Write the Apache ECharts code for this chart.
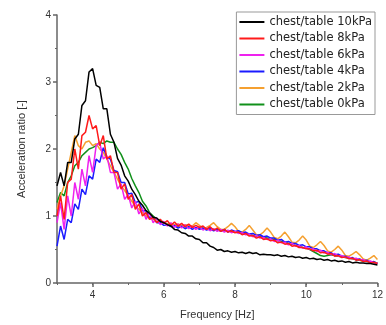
<!DOCTYPE html>
<html>
<head>
<meta charset="utf-8">
<script src="https://cdn.jsdelivr.net/npm/echarts@6/dist/echarts.min.js"></script>
<style>
    html, body { margin: 0; padding: 0; background: #fff; }
    #chart { width: 386px; height: 325px; }
</style>
</head>
<body>
<div id="chart"></div>
<script>
// 频率 [Hz]
const freq = [
    3.0, 3.1, 3.2, 3.3, 3.4, 3.5, 3.6, 3.7, 3.8, 3.9,
    4.0, 4.1, 4.2, 4.3, 4.4, 4.5, 4.6, 4.7, 4.8, 4.9,
    5.0, 5.1, 5.2, 5.3, 5.4, 5.5, 5.6, 5.7, 5.8, 5.9,
    6.0, 6.1, 6.2, 6.3, 6.4, 6.5, 6.6, 6.7, 6.8, 6.9,
    7.0, 7.1, 7.2, 7.3, 7.4, 7.5, 7.6, 7.7, 7.8, 7.9,
    8.0, 8.1, 8.2, 8.3, 8.4, 8.5, 8.6, 8.7, 8.8, 8.9,
    9.0, 9.1, 9.2, 9.3, 9.4, 9.5, 9.6, 9.7, 9.8, 9.9,
    10.0, 10.1, 10.2, 10.3, 10.4, 10.5, 10.6, 10.7, 10.8, 10.9,
    11.0, 11.1, 11.2, 11.3, 11.4, 11.5, 11.6, 11.7, 11.8, 11.9,
    12.0
];

const p10kPa = [
    1.45, 1.65, 1.45, 1.8, 1.8, 2.15, 2.22, 2.65, 2.72, 3.15,
    3.2, 2.95, 2.92, 2.6, 2.6, 2.22, 2.1, 1.86, 1.76, 1.6,
    1.52, 1.4, 1.32, 1.22, 1.16, 1.08, 1.04, 0.98, 0.97, 0.92,
    0.9, 0.87, 0.85, 0.8, 0.79, 0.75, 0.74, 0.7, 0.7, 0.66,
    0.65, 0.6, 0.6, 0.55, 0.53, 0.49, 0.5, 0.47, 0.48, 0.46,
    0.47, 0.45, 0.46, 0.44, 0.46, 0.44, 0.45, 0.42, 0.43, 0.42,
    0.42, 0.41, 0.42, 0.4, 0.41, 0.39, 0.4, 0.38, 0.39, 0.37,
    0.38, 0.36, 0.37, 0.35, 0.36, 0.34, 0.35, 0.33, 0.34, 0.32,
    0.33, 0.31, 0.32, 0.3, 0.31, 0.3, 0.3, 0.29, 0.29, 0.28,
    0.27
];

const p8kPa = [
    1.0, 1.3, 0.95, 1.5, 1.55, 2.0, 1.7, 2.2, 2.25, 2.5,
    2.3, 2.35, 2.05, 2.2, 1.85, 1.9, 1.65, 1.65, 1.4, 1.48,
    1.25, 1.32, 1.1, 1.18, 1.0, 1.05, 0.95, 0.98, 0.9, 0.95,
    0.89, 0.93, 0.86, 0.91, 0.85, 0.89, 0.84, 0.88, 0.83, 0.86,
    0.83, 0.85, 0.8, 0.84, 0.79, 0.82, 0.77, 0.8, 0.76, 0.78,
    0.75, 0.76, 0.72, 0.74, 0.7, 0.71, 0.67, 0.69, 0.65, 0.66,
    0.63, 0.64, 0.6, 0.61, 0.58, 0.59, 0.55, 0.56, 0.53, 0.53,
    0.51, 0.51, 0.48, 0.49, 0.45, 0.46, 0.43, 0.44, 0.4, 0.41,
    0.38, 0.39, 0.36, 0.37, 0.34, 0.35, 0.32, 0.33, 0.3, 0.31,
    0.29
];

const p6kPa = [
    0.9, 1.2, 0.8, 1.3, 1.0, 1.5, 1.25, 1.7, 1.45, 1.9,
    1.65, 2.05, 2.1, 1.85, 1.9, 1.65, 1.65, 1.4, 1.48, 1.25,
    1.32, 1.12, 1.22, 1.03, 1.12, 0.95, 1.05, 0.9, 0.97, 0.87,
    0.92, 0.85, 0.9, 0.83, 0.88, 0.82, 0.87, 0.81, 0.85, 0.8,
    0.84, 0.79, 0.82, 0.78, 0.81, 0.77, 0.8, 0.76, 0.79, 0.75,
    0.77, 0.74, 0.75, 0.72, 0.73, 0.69, 0.71, 0.67, 0.68, 0.65,
    0.66, 0.62, 0.64, 0.6, 0.61, 0.57, 0.59, 0.55, 0.56, 0.52,
    0.54, 0.5, 0.51, 0.47, 0.49, 0.45, 0.46, 0.42, 0.44, 0.4,
    0.41, 0.38, 0.39, 0.36, 0.37, 0.34, 0.35, 0.32, 0.33, 0.3,
    0.3
];

const p4kPa = [
    0.55, 0.85, 0.65, 0.95, 0.9, 1.18, 1.1, 1.4, 1.32, 1.6,
    1.55, 1.85, 1.8, 2.02, 1.88, 1.85, 1.68, 1.66, 1.5, 1.5,
    1.33, 1.34, 1.2, 1.22, 1.08, 1.08, 0.97, 0.98, 0.9, 0.9,
    0.86, 0.87, 0.84, 0.86, 0.82, 0.85, 0.81, 0.84, 0.8, 0.83,
    0.8, 0.82, 0.79, 0.81, 0.78, 0.8, 0.77, 0.8, 0.76, 0.79,
    0.77, 0.78, 0.75, 0.76, 0.73, 0.74, 0.71, 0.72, 0.69, 0.7,
    0.67, 0.67, 0.64, 0.65, 0.61, 0.62, 0.59, 0.59, 0.56, 0.57,
    0.54, 0.54, 0.51, 0.51, 0.48, 0.48, 0.45, 0.45, 0.42, 0.43,
    0.4, 0.4, 0.37, 0.38, 0.35, 0.36, 0.33, 0.34, 0.31, 0.32,
    0.29
];

const p2kPa = [
    1.1, 1.3, 1.45, 1.7, 1.95, 2.2, 2.05, 2.0, 2.1, 2.12,
    2.05, 2.08, 2.0, 1.95, 1.85, 1.75, 1.65, 1.55, 1.45, 1.38,
    1.3, 1.22, 1.15, 1.1, 1.05, 1.0, 0.97, 0.95, 0.92, 0.9,
    0.9, 0.88, 0.89, 0.87, 0.88, 0.86, 0.87, 0.86, 0.85, 0.9,
    0.86, 0.82, 0.83, 0.86, 0.9, 0.84, 0.8, 0.8, 0.84, 0.89,
    0.84, 0.77, 0.76, 0.8, 0.86, 0.79, 0.72, 0.72, 0.76, 0.82,
    0.76, 0.68, 0.66, 0.7, 0.76, 0.69, 0.61, 0.6, 0.64, 0.7,
    0.64, 0.55, 0.53, 0.57, 0.62, 0.56, 0.48, 0.46, 0.5, 0.55,
    0.49, 0.41, 0.4, 0.43, 0.47, 0.42, 0.36, 0.34, 0.37, 0.41,
    0.35
];

const p0kPa = [
    1.2, 1.35, 1.3, 1.5, 1.6, 1.75, 1.8, 1.9, 1.95, 2.0,
    2.02, 2.05, 2.1, 2.08, 2.12, 2.1, 2.1, 2.0, 1.92, 1.8,
    1.7, 1.56, 1.45, 1.35, 1.22, 1.15, 1.05, 1.0, 0.95, 0.93,
    0.9, 0.88, 0.87, 0.86, 0.85, 0.85, 0.84, 0.83, 0.83, 0.82,
    0.82, 0.81, 0.81, 0.8, 0.8, 0.79, 0.79, 0.78, 0.78, 0.77,
    0.76, 0.75, 0.74, 0.73, 0.72, 0.71, 0.7, 0.69, 0.68, 0.67,
    0.66, 0.65, 0.63, 0.62, 0.61, 0.59, 0.58, 0.56, 0.55, 0.53,
    0.52, 0.5, 0.47, 0.44, 0.41, 0.4, 0.41, 0.42, 0.41, 0.4,
    0.39, 0.38, 0.37, 0.36, 0.35, 0.34, 0.33, 0.32, 0.31, 0.31,
    0.3
];

const seriesNames = [
    'chest/table 10kPa', 'chest/table 8kPa', 'chest/table 6kPa',
    'chest/table 4kPa', 'chest/table 2kPa', 'chest/table 0kPa'
];
const seriesValues = [p10kPa, p8kPa, p6kPa, p4kPa, p2kPa, p0kPa];
const seriesColors = ['#000000', '#ff1a1a', '#ee22ee', '#1a1aff', '#f5a030', '#10901a'];

const xTicks = [4, 6, 8, 10, 12];

const chart = echarts.init(document.getElementById('chart'), null, { renderer: 'canvas' });

const axisColor = '#666666';
const font = '"Liberation Sans", Arial, sans-serif';

// 后画的在上面: 0kPa 先画, 10kPa 最后
const series = [];
for (let k = seriesNames.length - 1; k >= 0; k--) {
    series.push({
        name: seriesNames[k],
        type: 'line',
        xAxisIndex: 0,
        showSymbol: false,
        symbol: 'none',
        lineStyle: { width: 1.5, color: seriesColors[k] },
        itemStyle: { color: seriesColors[k] },
        data: freq.map((f, i) => [f, seriesValues[k][i]])
    });
}

chart.setOption({
    animation: false,
    backgroundColor: '#fff',
    textStyle: { fontFamily: font },
    grid: { left: 57, right: 7, top: 15, bottom: 40 },
    legend: {
        data: seriesNames,
        orient: 'vertical',
        right: 11,
        top: 12,
        padding: [4, 3, 4, 3],
        itemGap: 4.5,
        itemWidth: 25,
        itemHeight: 2,
        icon: 'rect',
        borderColor: '#999',
        borderWidth: 1,
        borderRadius: 0,
        backgroundColor: '#fff',
        textStyle: { fontSize: 11.5, color: '#222', fontFamily: '"DejaVu Sans", sans-serif', padding: [0, 0, 0, 0] }
    },
    xAxis: [
        {
            type: 'value',
            min: 3,
            max: 12,
            name: 'Frequency [Hz]',
            nameLocation: 'middle',
            nameGap: 26,
            nameTextStyle: { fontSize: 11, color: '#333' },
            axisLine: { show: true, lineStyle: { color: axisColor, width: 1.5 } },
            axisTick: { show: true, customValues: xTicks, length: 4, lineStyle: { color: axisColor, width: 1.5 } },
            axisLabel: { customValues: xTicks, fontSize: 10, color: '#333', margin: 7 },
            splitLine: { show: false }
        },
        {
            type: 'value',
            min: 3,
            max: 12,
            interval: 1,
            position: 'bottom',
            axisLine: { show: false },
            axisTick: { show: true, length: 2, lineStyle: { color: axisColor, width: 1 } },
            axisLabel: { show: false },
            splitLine: { show: false }
        }
    ],
    yAxis: {
        type: 'value',
        min: 0,
        max: 4,
        interval: 1,
        name: 'Acceleration ratio [-]',
        nameLocation: 'middle',
        nameGap: 30,
        nameTextStyle: { fontSize: 11, color: '#333' },
        axisLine: { show: true, lineStyle: { color: axisColor, width: 1.5 } },
        axisTick: { show: true, length: 4, lineStyle: { color: axisColor, width: 1.5 } },
        minorTick: { show: true, splitNumber: 2, length: 2, lineStyle: { color: axisColor } },
        axisLabel: { fontSize: 10, color: '#333', margin: 6 },
        splitLine: { show: false }
    },
    series: series
});
</script>
</body>
</html>
